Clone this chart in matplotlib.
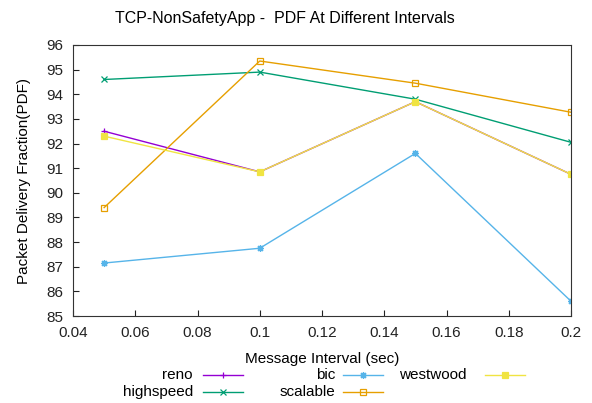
import matplotlib
matplotlib.use("Agg")
import matplotlib.pyplot as plt
from matplotlib.lines import Line2D

plt.rcParams['font.family'] = ['Liberation Sans', 'DejaVu Sans']

intervals = [0.05, 0.1, 0.15, 0.2]
reno = [92.5, 90.85, 93.7, 90.75]
highspeed = [94.6, 94.9, 93.8, 92.05]
bic = [87.15, 87.75, 91.6, 85.6]
scalable = [89.4, 95.35, 94.45, 93.27]
westwood = [92.3, 90.85, 93.7, 90.75]

# gnuplot-like asterisk (plus and cross together)
star = (8, 2, 0)

series = [
    ("reno", reno, "#9400d3", "+", "full"),
    ("highspeed", highspeed, "#009e73", "x", "full"),
    ("bic", bic, "#56b4e9", star, "full"),
    ("scalable", scalable, "#e69f00", "s", "none"),
    ("westwood", westwood, "#f0e442", "s", "full"),
]

W, H = 592, 403
fig = plt.figure(figsize=(W / 100, H / 100), dpi=100)
ax = fig.add_axes([73 / W, 1 - 316 / H, 498 / W, 271 / H])

for name, vals, color, marker, fill in series:
    ax.plot(intervals, vals, color=color, lw=1.0, marker=marker,
            markersize=5, fillstyle=fill, markeredgewidth=0.9, label=name)

ax.set_xlim(0.04, 0.2)
ax.set_ylim(85, 96)
ax.set_xticks([0.04, 0.06, 0.08, 0.1, 0.12, 0.14, 0.16, 0.18, 0.2])
ax.set_xticklabels(["0.04", "0.06", "0.08", "0.1", "0.12", "0.14", "0.16", "0.18", "0.2"])
ax.set_yticks(range(85, 97))
ax.tick_params(direction="in", length=4, labelsize=11, colors="#222222", pad=7)
for sp in ax.spines.values():
    sp.set_color("#333333")

fig.suptitle("TCP-NonSafetyApp -  PDF At Different Intervals", fontsize=11.5,
             x=285 / W, y=1 - 18 / H, va="center")
ax.set_ylabel("Packet Delivery Fraction(PDF)", fontsize=11, labelpad=11)
ax.set_xlabel("Message Interval (sec)", fontsize=11, labelpad=9)

# key in gnuplot style: right-aligned text followed by a line sample
cols = [(193, 203), (335, 343), (467, 485)]
rows = [375, 392]
for i, (name, vals, color, marker, fill) in enumerate(series):
    c, r = i // 2, i % 2
    tx, lx = cols[c]
    y = 1 - rows[r] / H
    fig.text(tx / W, y, name, ha="right", va="center", fontsize=11)
    fig.add_artist(Line2D([lx / W, (lx + 40) / W], [y, y], color=color, lw=1.0))
    fig.add_artist(Line2D([(lx + 20) / W], [y], color=color, marker=marker,
                          markersize=5, fillstyle=fill, markeredgewidth=0.9))

fig.savefig("out.png", dpi=100)
